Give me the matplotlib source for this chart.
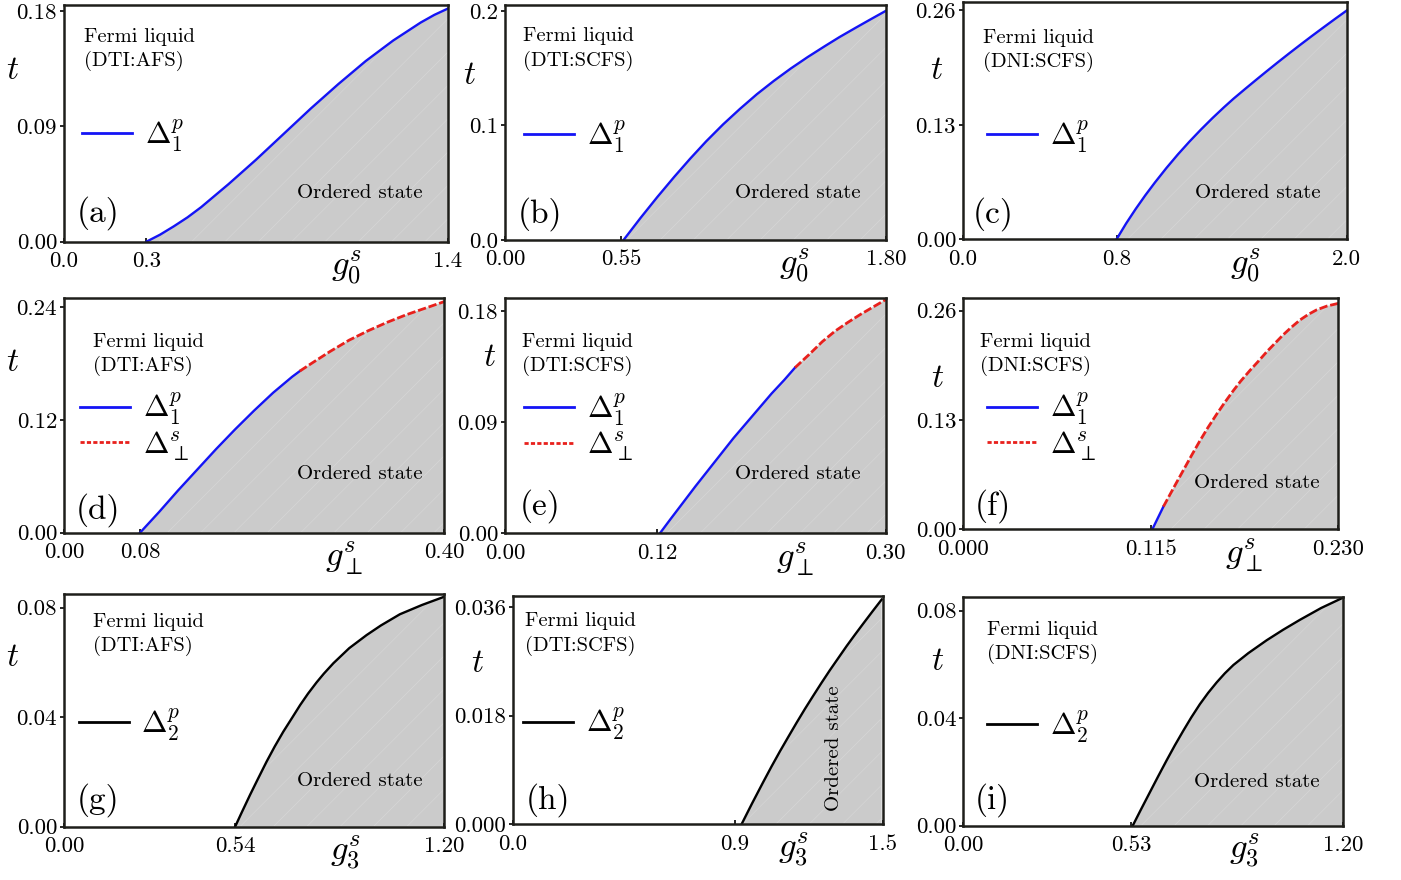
import numpy as np
import matplotlib
matplotlib.use('Agg')
import matplotlib.pyplot as plt
from matplotlib.lines import Line2D

plt.rcParams['font.family'] = 'cmr10'
plt.rcParams['mathtext.fontset'] = 'cm'
plt.rcParams['axes.formatter.use_mathtext'] = True
plt.rcParams['hatch.linewidth'] = 0.5

# ---- data (critical lines t(g)) ----
g_a = [0.30, 0.35, 0.40, 0.45, 0.50, 0.55, 0.60, 0.65, 0.70, 0.75, 0.80, 0.85,
       0.90, 0.95, 1.00, 1.05, 1.10, 1.15, 1.20, 1.25, 1.30, 1.35, 1.40]
t_a = [0.000, 0.0055, 0.012, 0.019, 0.027, 0.036, 0.045, 0.0545, 0.064, 0.074,
       0.084, 0.094, 0.104, 0.1135, 0.123, 0.132, 0.141, 0.149, 0.157, 0.164,
       0.171, 0.177, 0.182]

g_b = [0.56, 0.64, 0.72, 0.80, 0.875, 0.95, 1.03, 1.11, 1.19, 1.27, 1.35,
       1.43, 1.51, 1.58, 1.66, 1.73, 1.80]
t_b = [0.000, 0.0192, 0.0376, 0.0552, 0.0710, 0.0860, 0.1008, 0.1144, 0.1272,
       0.1388, 0.1496, 0.1596, 0.1690, 0.1770, 0.1855, 0.1928, 0.2000]

g_c = [0.80, 0.85, 0.90, 0.95, 1.00, 1.06, 1.12, 1.18, 1.24, 1.30, 1.36, 1.41,
       1.47, 1.53, 1.58, 1.64, 1.70, 1.76, 1.82, 1.88, 1.94, 2.00]
t_c = [0.000, 0.018, 0.0345, 0.050, 0.0645, 0.081, 0.0965, 0.111, 0.1247,
       0.1377, 0.150, 0.1598, 0.1708, 0.1816, 0.1905, 0.201, 0.2113, 0.2214,
       0.2313, 0.241, 0.2506, 0.260]

g_d = [0.080, 0.100, 0.120, 0.140, 0.160, 0.180, 0.200, 0.220, 0.240, 0.248,
       0.260, 0.280, 0.300, 0.320, 0.340, 0.360, 0.380, 0.400]
t_d = [0.000, 0.022, 0.045, 0.067, 0.089, 0.110, 0.130, 0.149, 0.166, 0.172,
       0.180, 0.193, 0.205, 0.215, 0.224, 0.232, 0.239, 0.246]

g_e = [0.122, 0.130, 0.140, 0.150, 0.160, 0.170, 0.180, 0.190, 0.200, 0.210,
       0.220, 0.2285, 0.240, 0.250, 0.260, 0.270, 0.280, 0.290, 0.300]
t_e = [0.000, 0.011, 0.0245, 0.038, 0.051, 0.064, 0.077, 0.089, 0.101, 0.113,
       0.124, 0.134, 0.145, 0.155, 0.1635, 0.1705, 0.177, 0.183, 0.189]

g_f = [0.1159, 0.1227, 0.130, 0.135, 0.140, 0.145, 0.150, 0.1554, 0.160, 0.1656,
       0.170, 0.1758, 0.181, 0.186, 0.191, 0.196, 0.201, 0.2065, 0.2115, 0.2167,
       0.223, 0.230]
t_f = [0.000, 0.027, 0.053, 0.0705, 0.088, 0.105, 0.121, 0.137, 0.150, 0.1650,
       0.176, 0.1890, 0.200, 0.211, 0.221, 0.231, 0.240, 0.249, 0.2555, 0.261,
       0.2655, 0.2687]

g_g = [0.54, 0.56, 0.587, 0.61, 0.639, 0.665, 0.692, 0.72, 0.745, 0.77, 0.797,
       0.82, 0.85, 0.90, 0.955, 1.00, 1.06, 1.13, 1.20]
t_g = [0.000, 0.005, 0.0116, 0.017, 0.0237, 0.0293, 0.0347, 0.0398, 0.0444,
       0.0486, 0.0527, 0.0559, 0.0597, 0.0652, 0.0700, 0.0735, 0.0776, 0.0810,
       0.0840]

g_h = [0.928, 0.97, 1.016, 1.05, 1.084, 1.118, 1.151, 1.185, 1.219, 1.252,
       1.286, 1.32, 1.354, 1.388, 1.421, 1.46, 1.496]
t_h = [0.000, 0.0034, 0.0070, 0.0096, 0.0121, 0.0145, 0.0168, 0.0191, 0.0213,
       0.0234, 0.0255, 0.0275, 0.0295, 0.0314, 0.0332, 0.0353, 0.0372]

g_i = [0.535, 0.56, 0.589, 0.615, 0.642, 0.668, 0.695, 0.72, 0.747, 0.773, 0.80,
       0.826, 0.853, 0.90, 0.958, 1.01, 1.063, 1.13, 1.20]
t_i = [0.000, 0.0058, 0.0124, 0.0183, 0.0243, 0.0299, 0.0354, 0.0403, 0.0452,
       0.0494, 0.0533, 0.0567, 0.0598, 0.0642, 0.0690, 0.0729, 0.0766, 0.0810,
       0.0849]

# index where the blue (Delta_1^p) part ends and the red (Delta_perp^s) part starts
split_d, split_e, split_f = 9, 11, 1

x_ticks = {
    'a': (['0.0', '0.3', '1.4'], [0.0, 0.3, 1.4]),
    'b': (['0.00', '0.55', '1.80'], [0.0, 0.55, 1.80]),
    'c': (['0.0', '0.8', '2.0'], [0.0, 0.8, 2.0]),
    'd': (['0.00', '0.08', '0.40'], [0.0, 0.08, 0.40]),
    'e': (['0.00', '0.12', '0.30'], [0.0, 0.12, 0.30]),
    'f': (['0.000', '0.115', '0.230'], [0.0, 0.115, 0.230]),
    'g': (['0.00', '0.54', '1.20'], [0.0, 0.54, 1.20]),
    'h': (['0.0', '0.9', '1.5'], [0.0, 0.9, 1.5]),
    'i': (['0.00', '0.53', '1.20'], [0.0, 0.53, 1.20]),
}
y_ticks = {
    'a': (['0.00', '0.09', '0.18'], [0.0, 0.09, 0.18]),
    'b': (['0.0', '0.1', '0.2'], [0.0, 0.1, 0.2]),
    'c': (['0.00', '0.13', '0.26'], [0.0, 0.13, 0.26]),
    'd': (['0.00', '0.12', '0.24'], [0.0, 0.12, 0.24]),
    'e': (['0.00', '0.09', '0.18'], [0.0, 0.09, 0.18]),
    'f': (['0.00', '0.13', '0.26'], [0.0, 0.13, 0.26]),
    'g': (['0.00', '0.04', '0.08'], [0.0, 0.04, 0.08]),
    'h': (['0.000', '0.018', '0.036'], [0.0, 0.018, 0.036]),
    'i': (['0.00', '0.04', '0.08'], [0.0, 0.04, 0.08]),
}
phase_names = {'a': 'DTI:AFS', 'b': 'DTI:SCFS', 'c': 'DNI:SCFS',
               'd': 'DTI:AFS', 'e': 'DTI:SCFS', 'f': 'DNI:SCFS',
               'g': 'DTI:AFS', 'h': 'DTI:SCFS', 'i': 'DNI:SCFS'}
x_names = {'a': r'$g_0^s$', 'b': r'$g_0^s$', 'c': r'$g_0^s$',
           'd': r'$g_\perp^s$', 'e': r'$g_\perp^s$', 'f': r'$g_\perp^s$',
           'g': r'$g_3^s$', 'h': r'$g_3^s$', 'i': r'$g_3^s$'}

curves = {'a': (g_a, t_a), 'b': (g_b, t_b), 'c': (g_c, t_c),
          'd': (g_d, t_d), 'e': (g_e, t_e), 'f': (g_f, t_f),
          'g': (g_g, t_g), 'h': (g_h, t_h), 'i': (g_i, t_i)}
splits = {'d': split_d, 'e': split_e, 'f': split_f}

# ---- layout (figure fractions, tuned to the reference) ----
rects = {
    'a': [0.0457, 0.7253, 0.2741, 0.2690],
    'b': [0.3605, 0.7273, 0.2719, 0.2670],
    'c': [0.6874, 0.7281, 0.2739, 0.2700],
    'd': [0.0457, 0.3947, 0.2714, 0.2664],
    'e': [0.3605, 0.3939, 0.2717, 0.2670],
    'f': [0.6876, 0.3985, 0.2677, 0.2625],
    'g': [0.0457, 0.0606, 0.2714, 0.2641],
    'h': [0.3659, 0.0633, 0.2641, 0.2595],
    'i': [0.6876, 0.0617, 0.2712, 0.2602],
}
ytop = {'a': 0.1847, 'b': 0.205, 'c': 0.270, 'd': 0.2496, 'e': 0.19,
        'f': 0.2747, 'g': 0.0849, 'h': 0.0378, 'i': 0.0852}
# (x, y) in axes fraction
fermi_pos = {'a': (0.052, 0.905), 'b': (0.047, 0.905), 'c': (0.052, 0.885),
             'd': (0.076, 0.853), 'e': (0.045, 0.853), 'f': (0.044, 0.85),
             'g': (0.076, 0.92), 'h': (0.033, 0.929), 'i': (0.063, 0.895)}
tlab_pos = {'a': (-0.135, 0.725), 'b': (-0.092, 0.70), 'c': (-0.068, 0.71),
            'd': (-0.135, 0.728), 'e': (-0.042, 0.748), 'f': (-0.068, 0.655),
            'g': (-0.135, 0.726), 'h': (-0.094, 0.704), 'i': (-0.068, 0.718)}
glab_pos = {'a': 0.735, 'b': 0.76, 'c': 0.736, 'd': 0.737, 'e': 0.762,
            'f': 0.75, 'g': 0.739, 'h': 0.76, 'i': 0.74}
tag_pos = {'a': (0.089, 0.121), 'b': (0.092, 0.11), 'c': (0.078, 0.106),
           'd': (0.089, 0.097), 'e': (0.092, 0.116), 'f': (0.078, 0.10),
           'g': (0.089, 0.115), 'h': (0.095, 0.107), 'i': (0.076, 0.11)}
ord_pos = {'a': (0.771, 0.206), 'b': (0.769, 0.20), 'c': (0.768, 0.195),
           'd': (0.778, 0.25), 'e': (0.769, 0.252), 'f': (0.783, 0.20),
           'g': (0.778, 0.197), 'h': (0.868, 0.335), 'i': (0.773, 0.19)}
leg_pos = {'a': (0.047, 0.45), 'b': (0.05, 0.442), 'c': (0.063, 0.434),
           'd': (0.042, 0.452), 'e': (0.05, 0.453), 'f': (0.063, 0.445),
           'g': (0.039, 0.441), 'h': (0.028, 0.44), 'i': (0.063, 0.435)}

BLUE = '#1414f5'
RED = '#e8201c'
GREY = '#cbcbcb'
SPINE = '#1e1e1a'

fig = plt.figure(figsize=(14.01, 8.80), dpi=100)

for key in 'abcdefghi':
    ax = fig.add_axes(rects[key])
    g, t = curves[key]
    g = np.asarray(g)
    t = np.asarray(t)
    ax.fill_between(g, 0, t, facecolor=GREY, edgecolor='#d6d6d6',
                    hatch='/', linewidth=0, zorder=1)

    if key in 'abc':
        ax.plot(g, t, color=BLUE, lw=1.7, zorder=3)
        handles = [Line2D([], [], color=BLUE, lw=2.0)]
        labels = [r'$\Delta_1^p$']
    elif key in 'def':
        s = splits[key]
        ax.plot(g[:s + 1], t[:s + 1], color=BLUE, lw=1.7, zorder=3)
        ax.plot(g[s:], t[s:], color=RED, lw=2.0, ls=(0, (3, 1)), zorder=3)
        handles = [Line2D([], [], color=BLUE, lw=2.0),
                   Line2D([], [], color=RED, lw=2.0, ls=(0, (1.5, 0.8)))]
        labels = [r'$\Delta_1^p$', r'$\Delta_\perp^s$']
    else:
        ax.plot(g, t, color='black', lw=1.7, zorder=3)
        handles = [Line2D([], [], color='black', lw=2.0)]
        labels = [r'$\Delta_2^p$']

    xl, xv = x_ticks[key]
    yl, yv = y_ticks[key]
    ax.set_xlim(xv[0], xv[-1])
    ax.set_ylim(0, ytop[key])
    ax.set_xticks(xv)
    ax.set_xticklabels(xl, fontsize=16.5)
    ax.set_yticks(yv)
    ax.set_yticklabels(yl, fontsize=16.5)
    ax.tick_params(axis='x', direction='in', length=3, width=1.2, pad=7)
    ax.tick_params(axis='y', direction='out', length=3, width=1.2, pad=2)
    for sp in ax.spines.values():
        sp.set_linewidth(1.8)
        sp.set_color(SPINE)
        sp.set_zorder(5)

    ax.text(*fermi_pos[key], 'Fermi liquid\n(' + phase_names[key] + ')',
            transform=ax.transAxes, ha='left', va='top', fontsize=14.8,
            linespacing=1.35)
    ax.text(*tlab_pos[key], r'$t$', transform=ax.transAxes,
            ha='center', va='center', fontsize=24)
    ax.text(glab_pos[key], -0.11, x_names[key], transform=ax.transAxes,
            ha='center', va='center', fontsize=25)
    ax.text(*tag_pos[key], '(' + key + ')', transform=ax.transAxes,
            ha='center', va='center', fontsize=24)
    if key == 'h':
        ax.text(*ord_pos[key], 'Ordered state', transform=ax.transAxes,
                ha='center', va='center', fontsize=15, rotation=90, zorder=4)
    else:
        ax.text(*ord_pos[key], 'Ordered state', transform=ax.transAxes,
                ha='center', va='center', fontsize=15, zorder=4)

    ax.legend(handles, labels, loc='center left', bbox_to_anchor=leg_pos[key],
              frameon=False, fontsize=22, handlelength=1.63, handletextpad=0.42,
              borderaxespad=0, borderpad=0, labelspacing=0.05)

fig.savefig('out.png', dpi=100)
